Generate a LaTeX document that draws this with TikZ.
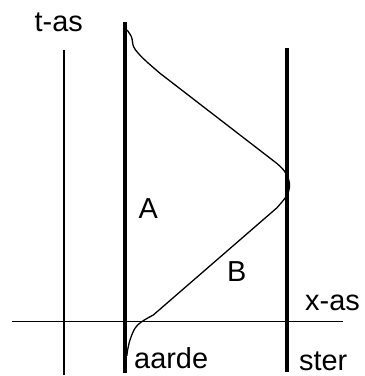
\documentclass[tikz,border=0pt]{standalone}
\usepackage{fontspec}
\setmainfont{Liberation Sans}
\begin{document}
\begin{tikzpicture}[x=1bp,y=-1bp,
  thinline/.style={line width=1.3bp},
  thickline/.style={line width=4.5bp},
  worldline/.style={line width=1.3bp,line join=round},
  lbl/.style={inner sep=0pt,anchor=base west,font=\fontsize{29}{30}\selectfont}]
\useasboundingbox[fill=white] (0,0) rectangle (365,376);
% axes
\coordinate (tb) at (64,375);
\coordinate (tt) at (64,50);
\coordinate (xl) at (11.7,321.7);
\coordinate (xr) at (343,321.7);
\draw[thinline] (tb) -- (tt);
\draw[thinline] (xl) -- (xr);
% world lines of earth and star
\coordinate (eb) at (125,373);
\coordinate (et) at (125,22);
\coordinate (sb) at (287,372);
\coordinate (st) at (287,48);
\draw[thickline] (eb) -- (et);
\draw[thickline] (sb) -- (st);
% traveller
\draw[worldline] plot[smooth,tension=0.6] coordinates {(127,30)(131.5,37)(133.5,46.5)(138.3,53.3)(146.7,61.7)(160,73.3)}
  -- plot[smooth,tension=0.6] coordinates {(276.7,163.3)(284,170.5)(288.5,179)(289.5,187)(287.5,194)(284,199.5)(276.7,208)}
  -- plot[smooth,tension=0.6] coordinates {(153.3,315)(141.7,321.7)(135,328.3)(130,340)(127.3,351.7)(127,356)};
% labels
\node[lbl] (tas) at (34.5,31.7) {t-as};
\node[lbl,anchor=base] (A) at (148.3,218) {A};
\node[lbl,anchor=base] (B) at (236.7,281.7) {B};
\node[lbl] (xas) at (305,310) {x-as};
\node[lbl] (aarde) at (134,368.3) {aarde};
\node[lbl] (ster) at (299,370) {ster};
\end{tikzpicture}
\end{document}
